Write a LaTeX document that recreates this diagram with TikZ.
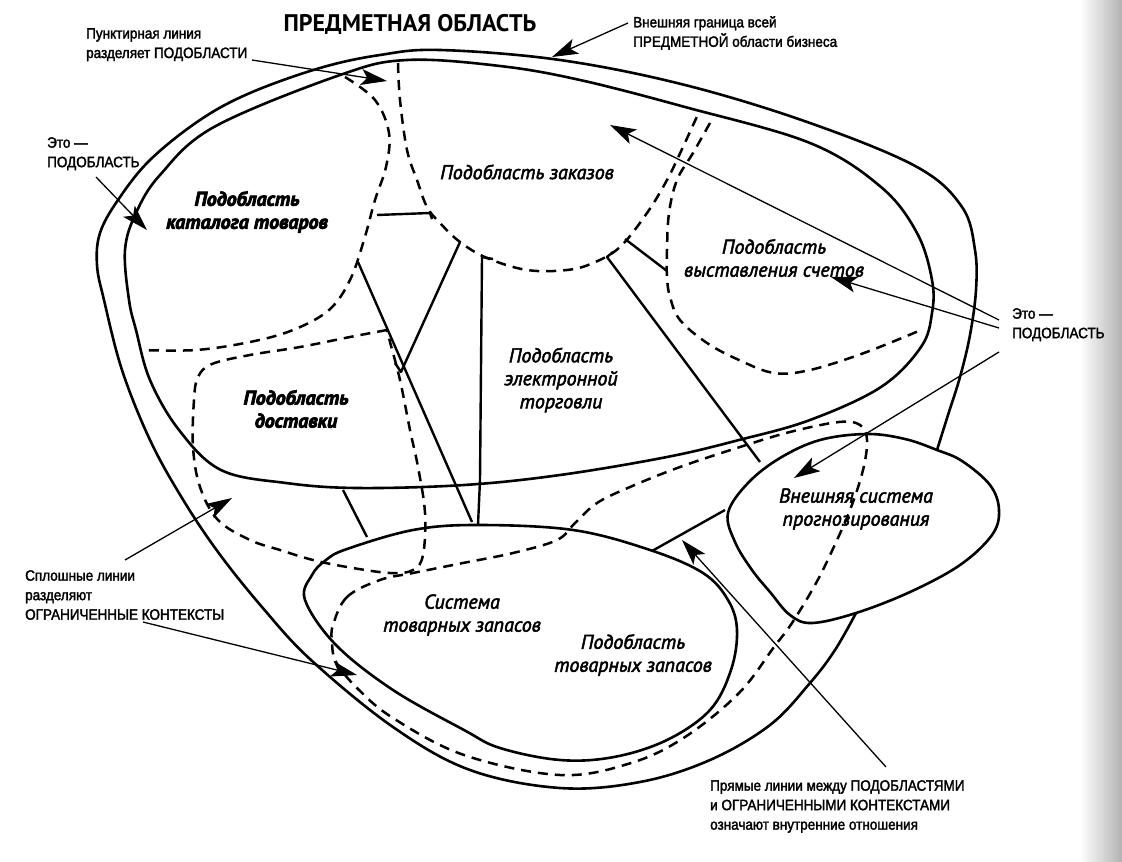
\documentclass[tikz,border=0pt]{standalone}
\usepackage{fontspec}
\setmainfont{Liberation Sans}
\newfontfamily\annofont[FakeStretch=0.9,FakeBold=2]{Liberation Sans}
\newfontfamily\handmed[FakeBold=2.5]{PT Sans Italic}
\newfontfamily\handheavy[FakeBold=3.5]{PT Sans Bold Italic}
\newfontfamily\titlefont{PT Sans}
\usetikzlibrary{arrows.meta}
\tikzset{
  bound/.style={line width=2.6pt, line join=round},
  subdom/.style={line width=2.5pt, dash pattern=on 10pt off 7pt},
  rel/.style={line width=2.4pt, line join=round},
  anno/.style={line width=1.3pt, -{Stealth[length=26pt,width=16pt,inset=6pt]}},
  annotext/.style={font=\annofont\fontsize{15}{19.5}\selectfont, align=left, inner sep=0pt, anchor=north west},
  hand/.style={font=\handmed\fontsize{20}{23}\selectfont, align=center, inner sep=0pt},
  handbold/.style={font=\handheavy\fontsize{20}{23}\selectfont, align=center, inner sep=0pt},
  titletext/.style={font=\titlefont\bfseries\fontsize{24}{27}\selectfont, inner sep=0pt},
}
\begin{document}
\begin{tikzpicture}[x=1pt,y=-1pt]
\useasboundingbox (0,0) rectangle (1122,862);
\shade[left color=white, right color=black!30] (1080,0) rectangle (1122,862);

% outer boundary of the whole domain
\draw[bound] plot[smooth, tension=0.6] coordinates {(937,450) (948,415) (960,377) (970,335) (976,290) (975,250) (962,207) (917,167) (810,123) (685,85) (560,60) (440,50) (380,55) (320,68) (250,93) (200,120) (150,160) (118,200) (100,233) (97,265) (104,300) (122,370) (150,440) (182,498) (218,552) (262,607) (311,660) (393,727) (470,770) (560,788) (640,782) (710,760) (770,725) (810,683) (835,650) (856,613)};

% inner bounded context (big core)
\draw[bound] plot[smooth cycle, tension=0.6] coordinates {(125,250) (129,300) (136,330) (150,380) (179,430) (221,470) (286,483) (357,488) (464,485) (560,475) (667,457) (739,440) (810,420) (881,387) (921,347) (932,313) (932,280) (917,233) (881,187) (810,143) (685,107) (580,80) (500,66) (407,60) (340,75) (214,127) (160,175) (136,213)};

% inventory system ellipse
\draw[bound] plot[smooth cycle, tension=0.6] coordinates {(305,600) (312,575) (326,560) (347,549) (413,530) (477,525) (573,530) (650,550) (703,573) (728,600) (737,630) (731,670) (710,710) (667,740) (614,757) (560,760) (500,748) (464,730) (393,690) (336,645)};

% forecasting system
\draw[bound] plot[smooth cycle, tension=0.6] coordinates {(728,513) (735,542) (752,570) (770,592) (790,615) (812,623) (856,613) (910,592) (960,565) (992,535) (999,510) (990,485) (962,461) (937,450) (905,439) (867,434) (820,440) (780,458) (748,483)};

% subdomain boundaries (dashed)
\draw[subdom] plot[smooth, tension=0.6] coordinates {(345,77) (375,100) (389,133) (386,167) (375,200) (364,240) (350,280) (329,310) (293,330) (250,342) (196,350) (141,350)};
\draw[subdom] plot[smooth, tension=0.6] coordinates {(398,63) (400,100) (407,150) (417,180) (427,207) (440,223) (460,242) (487,258) (527,270) (567,270) (593,263) (620,247) (647,213) (667,180) (683,147) (699,112)};
\draw[subdom] plot[smooth, tension=0.6] coordinates {(710,123) (693,153) (677,180) (669,213) (667,250) (667,277) (670,297) (680,320) (707,343) (739,360) (774,373) (810,370) (864,353) (921,330)};
\draw[subdom] plot[smooth, tension=0.6] coordinates {(387,330) (350,337) (300,347) (250,355) (212,364) (198,377) (194,400) (193,447) (200,487) (218,520) (250,540) (280,550) (313,560) (347,567) (390,573) (413,570) (423,555) (425,513) (418,467) (410,430) (400,380) (390,342) (387,330)};
\draw[subdom] plot[smooth cycle, tension=0.6] coordinates {(333,625) (347,597) (380,580) (413,573) (463,563) (513,553) (557,540) (575,523) (597,503) (630,487) (680,467) (740,447) (790,432) (839,422) (860,425) (867,440) (863,470) (850,510) (831,553) (815,585) (792,623) (774,647) (739,693) (685,737) (631,763) (560,775) (464,755) (393,718) (357,688) (336,662) (332,642)};

% internal relationships (solid straight lines)
\draw[rel] (377,215) -- (430,213) -- (432,219);
\draw[rel] (358,262) -- (472,522);
\draw[rel] (460,242) -- (401,372) -- (395,363);
\draw[rel] (493,259) -- (482,257) -- (480,480) -- (478,525);
\draw[rel] (613,252) -- (607,257) -- (760,462);
\draw[rel] (625,239) -- (667,271);
\draw[rel] (343,490) -- (367,537);
\draw[rel] (725,510) -- (652,551);

% labels
\node[titletext] (title) at (410,24) {ПРЕДМЕТНАЯ ОБЛАСТЬ};
\node[annotext] (tdash) at (86,28) {Пунктирная линия\\разделяет ПОДОБЛАСТИ};
\node[annotext] (touter) at (633,16) {Внешняя граница всей\\ПРЕДМЕТНОЙ области бизнеса};
\node[annotext] (tsubl) at (47,137) {Это —\\ПОДОБЛАСТЬ};
\node[annotext] (tsubr) at (1012,308) {Это —\\ПОДОБЛАСТЬ};
\node[annotext] (tsolid) at (25,570) {Сплошные линии\\разделяют\\ОГРАНИЧЕННЫЕ КОНТЕКСТЫ};
\node[annotext] (tstraight) at (710,780) {Прямые линии между ПОДОБЛАСТЯМИ\\и ОГРАНИЧЕННЫМИ КОНТЕКСТАМИ\\означают внутренние отношения};

\node[handbold] (lcat) at (247,212) {Подобласть\\каталога товаров};
\node[hand] (lord) at (527,172) {Подобласть заказов};
\node[hand] (lbill) at (774,258) {Подобласть\\выставления счетов};
\node[hand] (lecom) at (561,380) {Подобласть\\электронной\\торговли};
\node[handbold] (ldel) at (296,409) {Подобласть\\доставки};
\node[hand] (linvsys) at (462,615) {Система\\товарных запасов};
\node[hand] (linvsub) at (633,655) {Подобласть\\товарных запасов};
\node[hand] (lfc) at (856,509) {Внешняя система\\прогнозирования};

% annotation arrows
\coordinate (a1s) at (252,60);  \coordinate (a1t) at (387,81);
\coordinate (a2s) at (628,23);  \coordinate (a2t) at (552,57);
\coordinate (a3s) at (96,177);  \coordinate (a3t) at (147,230);
\coordinate (a4s) at (999,320); \coordinate (a4t) at (610,125);
\coordinate (a5s) at (999,328); \coordinate (a5t) at (831,277);
\coordinate (a6s) at (999,352); \coordinate (a6t) at (794,478);
\coordinate (a7s) at (125,560); \coordinate (a7t) at (232,498);
\coordinate (a8s) at (143,622); \coordinate (a8t) at (357,675);
\coordinate (a9s) at (886,767); \coordinate (a9t) at (682,540);
\draw[anno] (a1s) -- (a1t);
\draw[anno] (a2s) -- (a2t);
\draw[anno] (a3s) -- (a3t);
\draw[anno] (a4s) -- (a4t);
\draw[anno] (a5s) -- (a5t);
\draw[anno] (a6s) -- (a6t);
\draw[anno] (a7s) -- (a7t);
\draw[anno] (a8s) -- (a8t);
\draw[anno] (a9s) -- (a9t);
\end{tikzpicture}
\end{document}
